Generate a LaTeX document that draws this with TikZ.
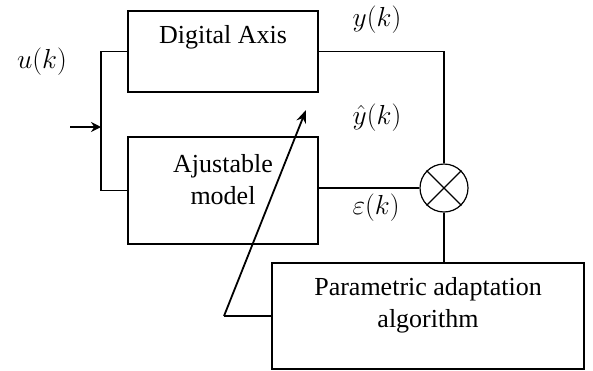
\documentclass[tikz,border=0pt]{standalone}
\usepackage{fix-cm}
\usepackage{fontspec}
\setmainfont{Liberation Serif}
\usetikzlibrary{arrows.meta,positioning}

\begin{document}
\begin{tikzpicture}
                [x=1pt, y=-1pt, >=Stealth,
                block/.style={draw, rectangle, line width=1.2pt, inner sep=0pt},
                txt/.style={font=\fontsize{26}{32}\selectfont, align=center, inner sep=0pt},
                sig/.style={font=\fontsize{27.5}{32}\selectfont, inner sep=0pt},
                wire/.style={line width=1.2pt},
                ]
                \useasboundingbox (0,0) rectangle (593,370);

                \node[block, minimum width=190pt, minimum height=81pt] (axis) at (223,51.5) {};
                \node[block, minimum width=190pt, minimum height=107pt] (model) at (223,190.5) {};
                \node[block, minimum width=312pt, minimum height=106pt] (algo) at (428,316) {};
                \node[draw, circle, line width=1.2pt, minimum size=48pt, inner sep=0pt] (sum) at (444,188) {};
                \draw[wire] (sum.north east) -- (sum.south west);
                \draw[wire] (sum.north west) -- (sum.south east);

                \node[txt] (axis text) at ([yshift=-27pt]axis.north) {Digital Axis};
                \node[txt] (model text) at ([yshift=-43pt]model.north) {Ajustable\\model};
                \node[txt] (algo text) at ([yshift=-43pt]algo.north) {Parametric adaptation\\algorithm};

                \node[sig] (u) at (42,62) {$u(k)$};
                \node[sig] (y) at (377,20) {$y(k)$};
                \node[sig] (yhat) at (377,118) {$\hat{y}(k)$};
                \node[sig] (eps) at (376,208) {$\varepsilon(k)$};

                % input split
                \coordinate (split) at (101,127);
                \coordinate (in) at (70,127);
                \draw[wire] (axis.west) -| (split) |- (model.west);
                \draw[wire, -{Stealth[length=10pt,width=10pt]}] (in) -- (split);

                % outputs to comparator
                \draw[wire] (axis.east) -| (sum.north);
                \draw[wire] (sum.west -| model.east) -- (sum.west);
                \draw[wire] (sum.south) -- (sum.south |- algo.north);

                % adaptation
                \coordinate (bend) at (224,316);
                \coordinate (tune) at (306,110);
                \draw[wire] (algo.west) -- (bend);
                \draw[line width=1.8pt, -{Stealth[length=13pt,width=10pt]}] (bend) -- (tune);
            \end{tikzpicture}
\end{document}
